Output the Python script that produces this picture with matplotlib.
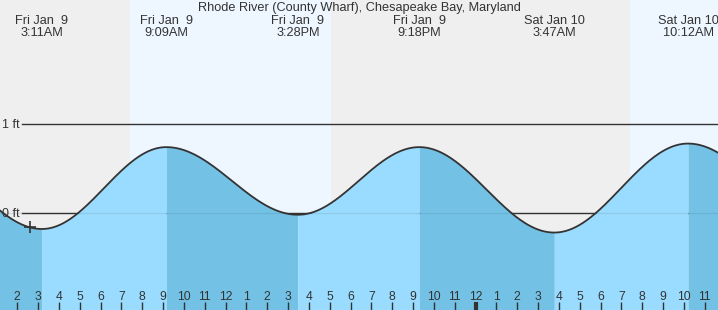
import numpy as np
import matplotlib
matplotlib.use("Agg")
import matplotlib.pyplot as plt

plt.rcParams['font.family'] = ['Liberation Sans', 'DejaVu Sans']

title = "Rhode River (County Wharf), Chesapeake Bay, Maryland"

# tide extremes, hours from midnight Fri Jan 9 (first and last are off-chart estimates)
tide_hours = [-3.2, 3.18, 9.15, 15.47, 21.30, 27.78, 34.20, 40.5]
tide_ft = [0.74, -0.18, 0.74, -0.02, 0.74, -0.22, 0.78, -0.05]

# labels at the top for the visible extremes
label_hours = [3.18, 9.15, 15.47, 21.30, 27.78, 34.20]
label_days = ["Fri Jan  9", "Fri Jan  9", "Fri Jan  9", "Fri Jan  9", "Sat Jan 10", "Sat Jan 10"]
label_times = ["3:11AM", "9:09AM", "3:28PM", "9:18PM", "3:47AM", "10:12AM"]

# daylight periods (sunrise, sunset)
daylight = [(7.43, 17.07), (31.43, 41.07)]

hour_ticks = list(range(2, 36))
now_hour = 2.6

x_min, x_max = 1.169, 35.64
y_min, y_max = -1.09, 2.393

night_col = '#efefef'
day_col = '#eef7ff'
rise_col = '#99dcff'
fall_col = '#73c2e6'
ink = '#333333'

# smooth curve between extremes (cosine between each low/high pair)
t = []
v = []
for i in range(len(tide_hours) - 1):
    tt = np.linspace(tide_hours[i], tide_hours[i + 1], 120)
    f = (tt - tide_hours[i]) / (tide_hours[i + 1] - tide_hours[i])
    vv = tide_ft[i + 1] + (tide_ft[i] - tide_ft[i + 1]) * (1 + np.cos(np.pi * f)) / 2
    t.append(tt)
    v.append(vv)

fig = plt.figure(figsize=(7.18, 3.10), dpi=100)
ax = fig.add_axes([0, 0, 1, 1])
ax.set_facecolor(night_col)
for a, b in daylight:
    ax.axvspan(a, b, color=day_col, zorder=0, lw=0)

# the ft lines start after their labels
ax.axhline(1, xmin=22 / 718, color=ink, lw=1, zorder=1)
ax.axhline(0, xmin=22 / 718, color=ink, lw=1, zorder=1)

for i in range(len(t)):
    rising = tide_ft[i + 1] > tide_ft[i]
    ax.fill_between(t[i], y_min, v[i], color=rise_col if rising else fall_col, lw=0, zorder=2)
ax.axhline(0, color=ink, lw=1, alpha=0.1, zorder=3)

ax.plot(np.concatenate(t), np.concatenate(v), color=ink, lw=1.3, zorder=4)

now_ft = np.interp(now_hour, np.concatenate(t), np.concatenate(v))
ax.plot([now_hour], [now_ft], marker='+', ms=9, mew=1.2, color=ink, zorder=5)

ax.text(0.003, 1, "1 ft", transform=ax.get_yaxis_transform(), ha='left',
        va='center_baseline', fontsize=9, color=ink, zorder=6)
ax.text(0.003, 0, "0 ft", transform=ax.get_yaxis_transform(), ha='left',
        va='center_baseline', fontsize=9, color=ink, zorder=6)

ax.text(0.5, 0.993, title, transform=ax.transAxes, ha='center', va='top',
        fontsize=9.2, color=ink)
for h, d, tm in zip(label_hours, label_days, label_times):
    ax.text(h, 0.953, d, transform=ax.get_xaxis_transform(), ha='center', va='top',
            fontsize=9.2, color=ink)
    ax.text(h, 0.913, tm, transform=ax.get_xaxis_transform(), ha='center', va='top',
            fontsize=9.2, color=ink)

ax.set_xlim(x_min, x_max)
ax.set_ylim(y_min, y_max)
ax.set_xticks(hour_ticks)
ax.set_xticklabels([str((h - 1) % 12 + 1) for h in hour_ticks])
ax.tick_params(axis='x', direction='in', length=5.8, width=1, color=ink,
               labelcolor=ink, labelsize=8.7, pad=-13.8)
for tk, h in zip(ax.xaxis.get_major_ticks(), hour_ticks):
    tk.tick1line.set_zorder(6)
    if h == 24:
        tk.tick1line.set_markeredgewidth(3)
ax.set_yticks([])
for s in ax.spines.values():
    s.set_visible(False)
ax.set_axisbelow(False)

fig.savefig("out.png", dpi=100)
